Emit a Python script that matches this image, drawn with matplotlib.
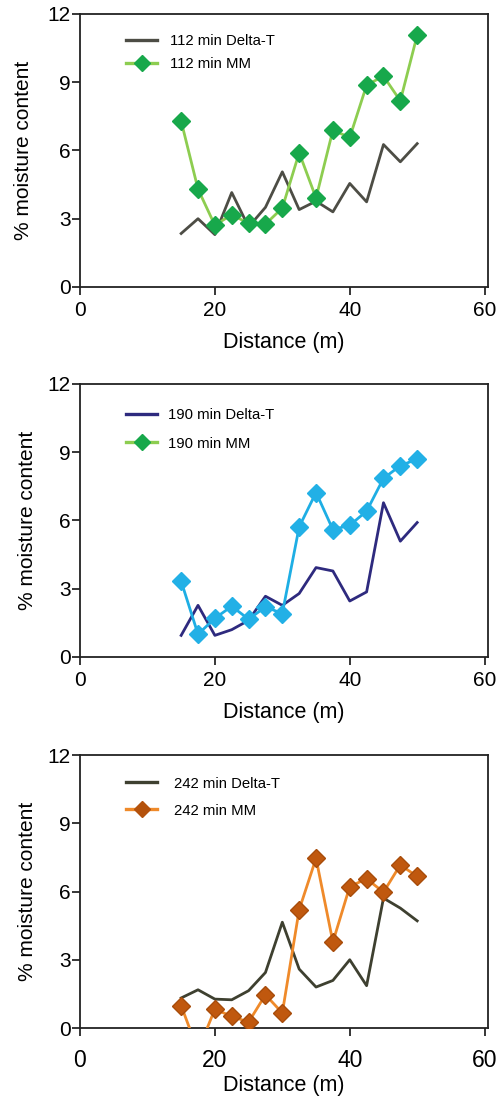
import matplotlib
import numpy as np

matplotlib.use("Agg")
import matplotlib.pyplot as plt

plt.rcParams["font.family"] = ["Liberation Sans", "DejaVu Sans"]

distance = [15, 17.5, 20, 22.5, 25, 27.5, 30, 32.5, 35, 37.5, 40, 42.5, 45, 47.5, 50]

delta_t_112 = [2.35, 3.0, 2.3, 4.15, 2.64, 3.5, 5.06, 3.4, 3.77, 3.3, 4.55, 3.74, 6.26, 5.5, 6.3]
mm_112 = [7.29, 4.3, 2.71, 3.18, 2.79, 2.76, 3.47, 5.9, 3.91, 6.89, 6.57, 8.87, 9.27, 8.18, 11.07]

delta_t_190 = [0.95, 2.27, 0.95, 1.2, 1.61, 2.67, 2.27, 2.79, 3.93, 3.78, 2.46, 2.86, 6.78, 5.09, 5.91]
mm_190 = [3.33, 1.0, 1.7, 2.23, 1.66, 2.2, 1.91, 5.72, 7.23, 5.6, 5.79, 6.41, 7.85, 8.41, 8.7]

delta_t_242 = [1.32, 1.68, 1.27, 1.24, 1.64, 2.44, 4.65, 2.59, 1.8, 2.09, 3.0, 1.86, 5.71, 5.27, 4.71]
mm_242 = [0.98, -1.0, 0.83, 0.51, 0.26, 1.46, 0.66, 5.2, 7.46, 3.78, 6.22, 6.56, 5.97, 7.17, 6.66]

panels = [
    {
        "bottom": 0.7389,
        "dt": delta_t_112, "mm": mm_112,
        "dt_label": "112 min Delta-T", "mm_label": "112 min MM",
        "dt_color": "#4d4d45", "mm_line": "#8dcd50", "mm_face": "#17a84b", "mm_edge": "#17a84b",
        "leg_line": "#8dcd50", "leg_face": "#17a84b",
        "xtick_size": 15, "xtick_pad": 4.3, "xlabel_pad": 8.5,
        "ylabel_pad": 11, "leg_y": 0.975, "leg_space": 0.6, "leg_tpad": 0.85,
    },
    {
        "bottom": 0.4022,
        "dt": delta_t_190, "mm": mm_190,
        "dt_label": "190 min Delta-T", "mm_label": "190 min MM",
        "dt_color": "#2e2a7e", "mm_line": "#1eaee4", "mm_face": "#22b0e6", "mm_edge": "#22b0e6",
        "leg_line": "#8dcd50", "leg_face": "#17a84b",
        "xtick_size": 15, "xtick_pad": 4.3, "xlabel_pad": 8.5,
        "ylabel_pad": 7.5, "leg_y": 0.962, "leg_space": 1.0, "leg_tpad": 0.75,
    },
    {
        "bottom": 0.0646,
        "dt": delta_t_242, "mm": mm_242,
        "dt_label": "242 min Delta-T", "mm_label": "242 min MM",
        "dt_color": "#3e4030", "mm_line": "#ef8a2a", "mm_face": "#c0580e", "mm_edge": "#a84c0a",
        "leg_line": "#ef8a2a", "leg_face": "#b4520c",
        "xtick_size": 16.5, "xtick_pad": 9.0, "xlabel_pad": 2.5,
        "ylabel_pad": 7.5, "leg_y": 0.97, "leg_space": 0.87, "leg_tpad": 1.1,
    },
]

fig = plt.figure(figsize=(5.0, 10.99), dpi=100)

for panel in panels:
    ax = fig.add_axes([0.16, panel["bottom"], 0.816, 0.2484])
    ax.plot(distance, panel["dt"], color=panel["dt_color"], lw=2.0, zorder=2)
    ax.plot(distance, panel["mm"], color=panel["mm_line"], lw=2.0, marker="D", ms=9,
            mfc=panel["mm_face"], mec=panel["mm_edge"], zorder=3)

    handles = [
        plt.Line2D([], [], color=panel["dt_color"], lw=2.4),
        plt.Line2D([], [], color=panel["leg_line"], lw=2.4, marker="D", ms=8,
                   mfc=panel["leg_face"], mec=panel["leg_face"]),
    ]
    ax.legend(handles, [panel["dt_label"], panel["mm_label"]], loc="upper left",
              bbox_to_anchor=(0.08, panel["leg_y"]), frameon=False, fontsize=10.7,
              handlelength=2.1, handletextpad=panel["leg_tpad"],
              labelspacing=panel["leg_space"])

    ax.set_xlim(0, 60.5)
    ax.set_ylim(0, 12)
    ax.set_xticks([0, 20, 40, 60])
    ax.set_yticks([0, 3, 6, 9, 12])
    ax.tick_params(axis="y", labelsize=15, length=5.5, width=1.1, pad=1)
    ax.tick_params(axis="x", labelsize=panel["xtick_size"], length=5.8, width=1.1,
                   pad=panel["xtick_pad"])
    for spine in ax.spines.values():
        spine.set_linewidth(1.3)
        spine.set_color("#222222")
    ax.set_xlabel("Distance (m)", fontsize=15.5, labelpad=panel["xlabel_pad"])
    ax.set_ylabel("% moisture content", fontsize=15, labelpad=panel["ylabel_pad"])

fig.savefig("out.png", dpi=100)
